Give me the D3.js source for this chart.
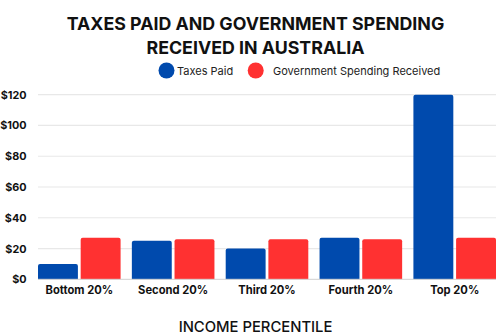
<!DOCTYPE html>
<html><head><meta charset="utf-8">
<script src="https://cdn.jsdelivr.net/npm/d3@7"></script>
<style>
html,body{margin:0;padding:0;background:#fff;}
svg{display:block;}
text{font-family:Inter, "Open Sans", sans-serif;}
</style></head>
<body>
<svg id="c" width="500" height="336"></svg>
<script>
const categories = ["Bottom 20%", "Second 20%", "Third 20%", "Fourth 20%", "Top 20%"];
const seriesNames = ["Taxes Paid", "Government Spending Received"];
const taxesPaid = [10, 25, 20, 27, 120];
const spendingReceived = [27, 26, 26, 26, 27];
const yTicks = [0, 20, 40, 60, 80, 100, 120];
const colors = ["#004AAD", "#FF3131"];

const data = categories.map((c, i) => ({cat: c, vals: [taxesPaid[i], spendingReceived[i]]}));

const svg = d3.select("#c");
const m = {left: 38, right: 4, top: 94.7, bottom: 56.7};
const W = 500, H = 336;

const x = d3.scaleBand().domain(categories).range([m.left, W - m.right]).paddingInner(0.12).paddingOuter(0.0);
const xs = d3.scaleBand().domain([0, 1]).range([0, x.bandwidth()]).paddingInner(0.065);
const y = d3.scaleLinear().domain([0, 120]).range([H - m.bottom, m.top]);

// gridlines
svg.append("g").selectAll("line").data(yTicks.filter(d => d > 0)).join("line")
  .attr("x1", m.left).attr("x2", W - 4)
  .attr("y1", d => y(d)).attr("y2", d => y(d))
  .attr("stroke", "#e8e8e8").attr("stroke-width", 1.2);

// y axis
const ya = d3.axisLeft(y).tickValues(yTicks).tickSize(0).tickFormat(d => "$" + d);
svg.append("g").attr("transform", `translate(${m.left - 8.5},0)`).call(ya)
  .call(g => g.select(".domain").remove())
  .selectAll("text").attr("font-size", 10.8).attr("font-weight", 700).attr("fill", "#111").attr("dx", 0);

// bars
const groups = svg.append("g").selectAll("g").data(data).join("g")
  .attr("transform", d => `translate(${x(d.cat)},0)`);
groups.selectAll("path").data(d => d.vals.map((v, j) => ({v, j}))).join("path")
  .attr("fill", d => colors[d.j])
  .attr("d", d => {
    const x0 = xs(d.j), w = xs.bandwidth(), y0 = y(d.v), y1 = y(0), r = 2;
    return `M${x0},${y1}V${y0 + r}Q${x0},${y0} ${x0 + r},${y0}H${x0 + w - r}Q${x0 + w},${y0} ${x0 + w},${y0 + r}V${y1}Z`;
  });

// baseline
svg.append("line").attr("x1", m.left).attr("x2", W - 4).attr("y1", y(0)).attr("y2", y(0))
  .attr("stroke", "#d0d0d0").attr("stroke-width", 1);

// x axis labels
const xa = d3.axisBottom(x).tickSize(0);
svg.append("g").attr("transform", `translate(0,${y(0) + 4})`).call(xa)
  .call(g => g.select(".domain").remove())
  .selectAll("text").attr("font-size", 11.2).attr("font-weight", 700).attr("fill", "#111");

// title
const title = svg.append("text").attr("text-anchor", "middle").attr("font-size", 17.8).attr("font-weight", 700).attr("fill", "#111");
title.append("tspan").attr("x", 255.5).attr("y", 29.5).text("TAXES PAID AND GOVERNMENT SPENDING");
title.append("tspan").attr("x", 255.5).attr("y", 53.5).text("RECEIVED IN AUSTRALIA");

// legend
const legend = [{cx: 166.5, tx: 177, name: seriesNames[0]}, {cx: 255.7, tx: 273, name: seriesNames[1]}];
legend.forEach((l, i) => {
  svg.append("circle").attr("cx", l.cx).attr("cy", 70.5).attr("r", 8).attr("fill", colors[i]);
  svg.append("text").attr("x", l.tx).attr("y", 74.5).attr("font-size", 11).attr("fill", "#222").text(l.name);
});

// axis title
svg.append("text").attr("x", 255.5).attr("y", 332).attr("text-anchor", "middle").attr("font-size", 14.8).attr("font-weight", 500).attr("fill", "#111").text("INCOME PERCENTILE");
</script>
</body></html>
